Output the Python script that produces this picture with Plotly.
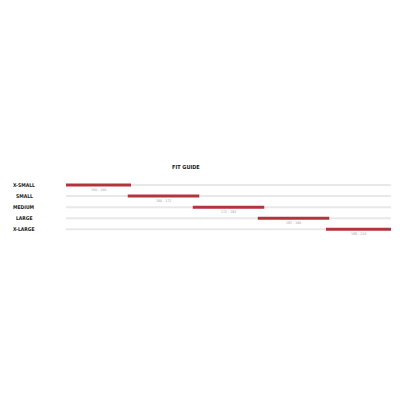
import plotly.graph_objects as go

# fit guide rows
sizes = ["X-SMALL", "SMALL", "MEDIUM", "LARGE", "X-LARGE"]
range_labels = ["150 - 160", "160 - 172", "172 - 182", "182 - 190", "188 - 210"]
# bar start/end as percent of the full track
bar_start = [0, 19, 39, 59, 80]
bar_end = [20, 41, 61, 81, 100]

TRACK_COLOR = "#e8e8e8"
BAR_COLOR = "#b3343c"
FONT = "DejaVu Sans Condensed, Roboto, sans-serif"

fig = go.Figure()

for i, name in enumerate(sizes):
    # grey track
    fig.add_trace(go.Scatter(
        x=[0, 100], y=[i, i], mode="lines",
        line=dict(color=TRACK_COLOR, width=2),
        showlegend=False, hoverinfo="skip"
    ))
    # red range bar
    fig.add_trace(go.Scatter(
        x=[bar_start[i], bar_end[i]], y=[i, i], mode="lines",
        line=dict(color=BAR_COLOR, width=3),
        showlegend=False, hoverinfo="skip"
    ))
    # range label under the bar
    fig.add_annotation(
        x=(bar_start[i] + bar_end[i]) / 2, y=i, text=range_labels[i],
        showarrow=False, yshift=-5, xanchor="center",
        font=dict(size=3.5, color="#9a9a9a", family=FONT)
    )
    # size name on the left
    fig.add_annotation(
        xref="paper", x=-0.128, y=i, text="<b>" + name + "</b>",
        showarrow=False, xanchor="center",
        font=dict(size=5, color="#222222", family=FONT)
    )

fig.add_annotation(
    xref="paper", x=0.369, y=-1.62, text="<b>FIT GUIDE</b>",
    showarrow=False, xanchor="center",
    font=dict(size=5.5, color="#222222", family=FONT)
)

# page body adds an 8px offset, so margins are pulled in by 8
fig.update_layout(
    width=400, height=400,
    margin=dict(l=58, r=17, t=152, b=168),
    paper_bgcolor="white", plot_bgcolor="white",
    xaxis=dict(range=[0, 100], visible=False, fixedrange=True),
    yaxis=dict(range=[4.96, -2.26], visible=False, fixedrange=True),
)

fig.write_html("out.html", config={"displayModeBar": False})
